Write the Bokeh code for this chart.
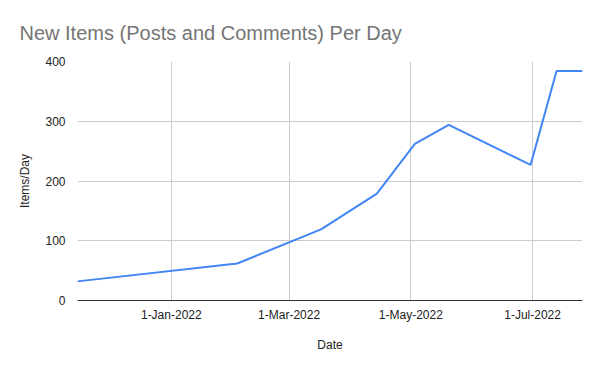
from datetime import datetime
from bokeh.plotting import figure
from bokeh.models import FixedTicker, Range1d
from bokeh.embed import file_html
from bokeh.resources import INLINE

# data
dates = ["2021-11-15", "2022-02-03", "2022-03-17", "2022-04-14", "2022-05-03",
         "2022-05-20", "2022-06-30", "2022-07-13", "2022-07-26"]
items_per_day = [32, 62, 119, 179, 262, 294, 227, 384, 384]
tick_dates = ["2022-01-01", "2022-03-01", "2022-05-01", "2022-07-01"]
tick_labels = ["1-Jan-2022", "1-Mar-2022", "1-May-2022", "1-Jul-2022"]
y_ticks = [0, 100, 200, 300, 400]

def ms(s):
    return (datetime.strptime(s, "%Y-%m-%d") - datetime(1970, 1, 1)).total_seconds() * 1000.0

xs = [datetime.strptime(d, "%Y-%m-%d") for d in dates]
tick_ms = [ms(d) for d in tick_dates]

FONT = "Liberation Sans"

p = figure(width=600, height=371, x_axis_type="datetime",
           output_backend="svg", toolbar_location=None,
           x_range=Range1d(ms(dates[0]), ms(dates[-1])),
           y_range=Range1d(0, 400),
           min_border_left=77, min_border_right=18,
           min_border_top=61, min_border_bottom=71)

p.title.text = "New Items (Posts and Comments) Per Day"
p.title.text_font = FONT
p.title.text_font_size = "20px"
p.title.text_font_style = "normal"
p.title.text_color = "#757575"
p.title.align = "left"
p.title.offset = -58
p.title.standoff = 36

p.outline_line_color = None
p.background_fill_color = "white"
p.border_fill_color = "white"

p.line(xs, items_per_day, line_color="#4285F4", line_width=2)

# x axis
xa = p.xaxis[0]
xa.ticker = FixedTicker(ticks=tick_ms)
xa.major_label_overrides = {t: l for t, l in zip(tick_ms, tick_labels)}
xa.axis_label = "Date"
xa.axis_line_color = "#333333"
xa.axis_line_width = 1
xa.major_tick_line_color = None
xa.minor_tick_line_color = None
xa.major_label_standoff = 1
xa.major_label_text_font = FONT
xa.major_label_text_font_size = "12px"
xa.major_label_text_color = "#222222"
xa.axis_label_text_font = FONT
xa.axis_label_text_font_size = "12px"
xa.axis_label_text_font_style = "normal"
xa.axis_label_text_color = "#222222"
xa.axis_label_standoff = 13

# y axis
ya = p.yaxis[0]
ya.ticker = FixedTicker(ticks=y_ticks)
ya.axis_label = "Items/Day"
ya.axis_line_color = None
ya.major_tick_line_color = None
ya.minor_tick_line_color = None
ya.major_label_standoff = 6
ya.major_label_text_font = FONT
ya.major_label_text_font_size = "12px"
ya.major_label_text_color = "#222222"
ya.axis_label_text_font = FONT
ya.axis_label_text_font_size = "12px"
ya.axis_label_text_font_style = "normal"
ya.axis_label_text_color = "#222222"
ya.axis_label_standoff = 10

p.xgrid.grid_line_color = "#cccccc"
p.ygrid.grid_line_color = "#cccccc"
p.xgrid.ticker = FixedTicker(ticks=tick_ms)

open("out.html", "w").write(file_html(p, INLINE))
